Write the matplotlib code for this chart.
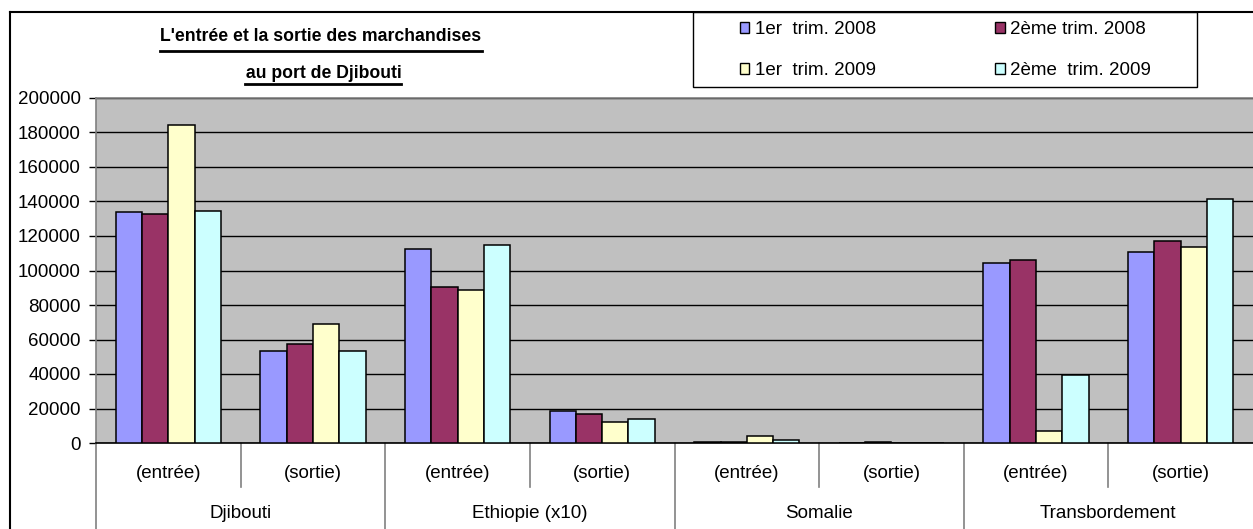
import matplotlib
matplotlib.use("Agg")
import matplotlib.pyplot as plt
from matplotlib.lines import Line2D
from matplotlib.patches import Rectangle, Patch
import numpy as np

plt.rcParams['font.family'] = ['Liberation Sans', 'DejaVu Sans']

subcategories = ["(entrée)", "(sortie)", "(entrée)", "(sortie)",
                 "(entrée)", "(sortie)", "(entrée)", "(sortie)"]
groups = ["Djibouti", "Ethiopie (x10)", "Somalie", "Transbordement"]
series_names = ["1er  trim. 2008", "2ème trim. 2008", "1er  trim. 2009", "2ème  trim. 2009"]
t1_2008 = [133700, 53500, 112600, 18500, 600, 0, 104300, 110900]
t2_2008 = [132900, 57400, 90400, 16600, 600, 500, 106300, 117300]
t1_2009 = [184300, 69200, 88700, 12200, 3800, 0, 7200, 113600]
t2_2009 = [134700, 53500, 114600, 13700, 1800, 0, 39600, 141300]
colors = ["#9999FF", "#993366", "#FFFFCC", "#CCFFFF"]
yticks = [0, 20000, 40000, 60000, 80000, 100000, 120000, 140000, 160000, 180000, 200000]
title_lines = ["L'entrée et la sortie des marchandises", " au port de Djibouti"]

W, H = 1253, 529
fig = plt.figure(figsize=(W / 100, H / 100), dpi=100)

def fx(px):
    return px / W

def fy(py):
    return 1 - py / H

FS = 13.5
L, T, B = 96, 98, 443
ax = fig.add_axes([fx(L), fy(B), fx(W - L), (B - T) / H])
ax.set_facecolor("#C0C0C0")

series = [t1_2008, t2_2008, t1_2009, t2_2009]
n = len(series)
bw = 1 / (n + 1.5)
x = np.arange(len(subcategories)) + 0.5
handles = []
for j, (vals, c, name) in enumerate(zip(series, colors, series_names)):
    ax.bar(x + (j - (n - 1) / 2) * bw, vals, width=bw, color=c,
           edgecolor="black", linewidth=1.1, label=name, zorder=3)
    handles.append(Patch(facecolor=c, edgecolor="black", linewidth=1.0))

ax.set_xlim(0, len(subcategories))
ax.set_ylim(0, 200000)
ax.set_yticks(yticks)
ax.set_yticklabels([str(v) for v in yticks], fontsize=FS)
ax.tick_params(axis="y", length=5, width=1, color="black", pad=6, direction="out")
ax.set_xticks([])
ax.yaxis.grid(True, color="black", linewidth=1.0, zorder=1)
ax.set_axisbelow(True)
for s in ["left", "top"]:
    ax.spines[s].set_color("#808080")
    ax.spines[s].set_linewidth(1.2)
ax.spines["right"].set_visible(False)
ax.spines["bottom"].set_color("black")
ax.spines["bottom"].set_linewidth(1.2)

tr = ax.get_xaxis_transform()
sub_y = -(474 - B) / (B - T)
grp_y = -(513 - B) / (B - T)
for xi, lab in zip(x, subcategories):
    ax.text(xi, sub_y, lab, transform=tr, ha="center", va="center", fontsize=FS)
for gi, g in enumerate(groups):
    ax.text(2 * gi + 1, grp_y, g, transform=tr, ha="center", va="center", fontsize=FS)
for xs in [1, 3, 5, 7]:
    ax.axvline(xs, ymin=-(487 - B) / (B - T), ymax=0, clip_on=False,
               color="#808080", linewidth=1.2)
for xs in [0, 2, 4, 6]:
    ax.axvline(xs, ymin=-(H - B) / (B - T), ymax=0, clip_on=False,
               color="#808080", linewidth=1.2)

# outer chart border
fig.add_artist(Line2D([fx(10), fx(10)], [fy(12), 0], color="black", linewidth=1.5))
fig.add_artist(Line2D([fx(10), 1], [fy(12), fy(12)], color="black", linewidth=1.5))

# legend box
fig.add_artist(Rectangle((fx(693), fy(87)), fx(1197 - 693), (87 - 12) / H,
                         facecolor="white", edgecolor="black", linewidth=1.0))
order = [0, 2, 1, 3]
leg = fig.legend([handles[i] for i in order], [series_names[i] for i in order],
                 ncol=2, loc="upper left",
                 bbox_to_anchor=(fx(740), fy(21)), frameon=False, fontsize=FS,
                 handlelength=0.5, handleheight=0.5, handletextpad=0.3,
                 columnspacing=6.35, labelspacing=1.28, borderpad=0, borderaxespad=0)

# title with underline
t1 = fig.text(fx(321), fy(41), title_lines[0], ha="center", va="baseline",
              fontsize=12.7, fontweight="bold")
t2 = fig.text(fx(321), fy(78), title_lines[1], ha="center", va="baseline",
              fontsize=12.7, fontweight="bold")
fig.canvas.draw()
r = fig.canvas.get_renderer()
for t, uy in [(t1, 51), (t2, 84)]:
    bb = t.get_window_extent(renderer=r)
    x0 = bb.x0
    if t is t2:
        x0 = bb.x0 + 4
    fig.add_artist(Line2D([x0 / W, bb.x1 / W], [fy(uy), fy(uy)], color="black", linewidth=2))

fig.savefig("out.png", dpi=100)
